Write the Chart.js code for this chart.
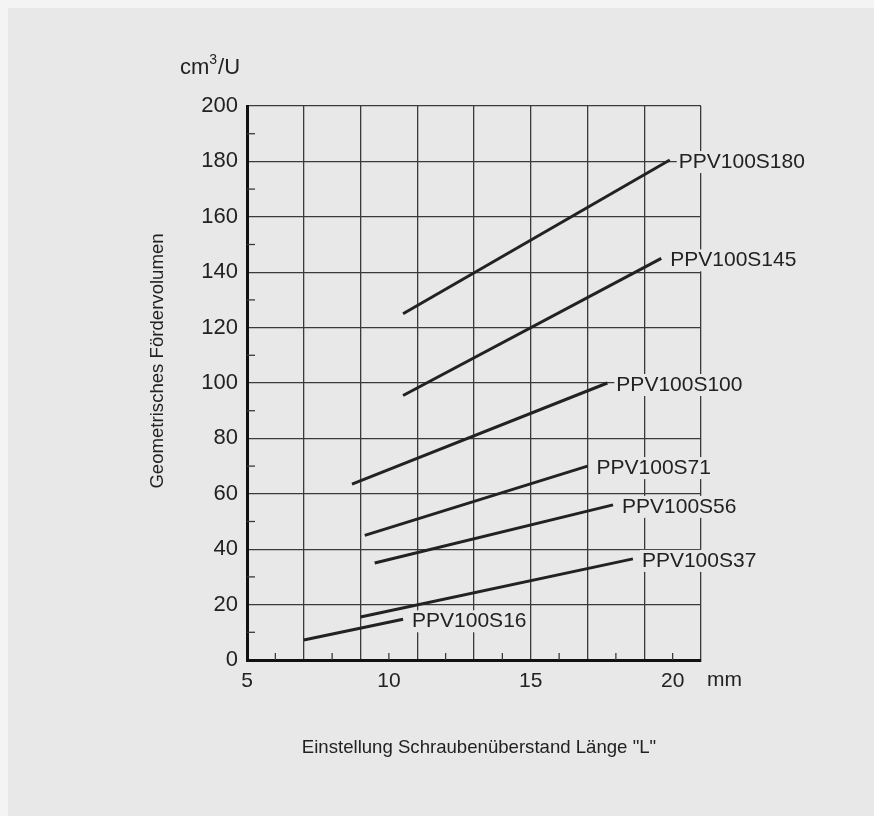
<!DOCTYPE html>
<html>
<head>
<meta charset="utf-8">
<script src="https://cdn.jsdelivr.net/npm/chart.js@4"></script>
<style>
  body { margin: 0; background: #f4f4f4; }
  canvas { display: block; }
</style>
</head>
<body>
<canvas id="pumpChart" width="874" height="816"></canvas>
<script>
// Series names and start/end points
const seriesNames = ['PPV100S180', 'PPV100S145', 'PPV100S100', 'PPV100S71', 'PPV100S56', 'PPV100S37', 'PPV100S16'];
const xStart = [10.5, 10.5, 8.7, 9.15, 9.5, 9.0, 7.0];
const xEnd   = [19.9, 19.6, 17.7, 17.0, 17.9, 18.6, 10.5];
const yStart = [125, 95.5, 63.5, 45, 35, 15.5, 7.2];
const yEnd   = [180.5, 145, 100, 70, 56, 36.5, 14.7];

// Axis labelling
const xLabelTicks = [5, 10, 15, 20];
const yMin = 0, yMax = 200;
const xMin = 5, xMax = 21;

const panelColor = '#e8e8e8';
const inkColor = '#222';
const gridColor = '#3a3a3a';
const fontFamily = '"Liberation Sans", Arial, Helvetica, sans-serif';

// Build datasets: each curve is a straight segment
const datasets = seriesNames.map((name, i) => ({
    label: name,
    data: [{ x: xStart[i], y: yStart[i] }, { x: xEnd[i], y: yEnd[i] }],
    borderColor: inkColor,
    borderWidth: 3,
    pointRadius: 0,
    fill: false,
    tension: 0
}));

// Panel background
const backgroundPlugin = {
    id: 'panelBackground',
    beforeDraw(chart) {
        const ctx = chart.ctx;
        ctx.save();
        ctx.fillStyle = panelColor;
        ctx.fillRect(8, 8, chart.width - 8, chart.height - 8);
        ctx.restore();
    }
};

// Minor ticks on the inside of the axes, titles and series labels
const decorPlugin = {
    id: 'decor',
    afterDatasetsDraw(chart) {
        const ctx = chart.ctx;
        const area = chart.chartArea;
        const xs = chart.scales.x;
        const ys = chart.scales.y;
        ctx.save();

        // minor ticks
        ctx.strokeStyle = gridColor;
        ctx.lineWidth = 1.3;
        for (let v = 10; v < yMax; v += 20) {
            const py = ys.getPixelForValue(v);
            ctx.beginPath();
            ctx.moveTo(area.left, py);
            ctx.lineTo(area.left + 8, py);
            ctx.stroke();
        }
        for (let v = 6; v < xMax; v += 2) {
            const px = xs.getPixelForValue(v);
            ctx.beginPath();
            ctx.moveTo(px, area.bottom);
            ctx.lineTo(px, area.bottom - 7);
            ctx.stroke();
        }

        // series labels with a background that breaks the grid
        ctx.font = '21px ' + fontFamily;
        ctx.textBaseline = 'middle';
        ctx.textAlign = 'left';
        seriesNames.forEach((name, i) => {
            const px = xs.getPixelForValue(xEnd[i]) + 9;
            const py = ys.getPixelForValue(yEnd[i]) + 2;
            const w = ctx.measureText(name).width;
            ctx.fillStyle = panelColor;
            ctx.fillRect(px - 2, py - 11, w + 4, 22);
            ctx.fillStyle = inkColor;
            ctx.fillText(name, px, py);
        });

        // unit labels
        ctx.fillStyle = inkColor;
        ctx.font = '22px ' + fontFamily;
        ctx.textAlign = 'left';
        ctx.fillText('cm', 180, 68);
        const cmW = ctx.measureText('cm').width;
        ctx.font = '14px ' + fontFamily;
        ctx.fillText('3', 180 + cmW, 60);
        const supW = ctx.measureText('3').width;
        ctx.font = '22px ' + fontFamily;
        ctx.fillText('/U', 180 + cmW + supW + 1, 68);

        ctx.font = '21px ' + fontFamily;
        ctx.fillText('mm', 707, 680);

        // axis titles
        ctx.font = '18.6px ' + fontFamily;
        ctx.textAlign = 'center';
        ctx.fillText('Einstellung Schraubenüberstand Länge "L"', 479, 748);

        ctx.translate(158, 361);
        ctx.rotate(-Math.PI / 2);
        ctx.fillText('Geometrisches Fördervolumen', 0, 0);

        ctx.restore();
    }
};

const ctx = document.getElementById('pumpChart').getContext('2d');
const pumpChart = new Chart(ctx, {
    type: 'line',
    data: { datasets: datasets },
    options: {
        responsive: false,
        animation: false,
        layout: { padding: { top: 106, right: 173, bottom: 0, left: 0 } },
        plugins: {
            legend: { display: false },
            tooltip: { enabled: false }
        },
        scales: {
            x: {
                type: 'linear',
                min: xMin,
                max: xMax,
                afterFit(scale) { scale.height = 156; },
                ticks: {
                    stepSize: 1,
                    autoSkip: false,
                    maxRotation: 0,
                    padding: 9,
                    color: inkColor,
                    font: { family: fontFamily, size: 21 },
                    callback: v => xLabelTicks.includes(v) ? String(v) : ''
                },
                grid: {
                    drawTicks: false,
                    lineWidth: 1.3,
                    color: c => (c.tick && c.tick.value % 2 === 1 && c.tick.value > xMin) ? gridColor : 'transparent'
                },
                border: { display: true, color: '#111', width: 3 }
            },
            y: {
                min: yMin,
                max: yMax,
                afterFit(scale) { scale.width = 247; },
                ticks: {
                    stepSize: 10,
                    autoSkip: false,
                    padding: 9,
                    color: inkColor,
                    font: { family: fontFamily, size: 22 },
                    callback: v => v % 20 === 0 ? String(v) : ''
                },
                grid: {
                    drawTicks: false,
                    lineWidth: 1.3,
                    color: c => (c.tick && c.tick.value % 20 === 0 && c.tick.value > yMin) ? gridColor : 'transparent'
                },
                border: { display: true, color: '#111', width: 3 }
            }
        }
    },
    plugins: [backgroundPlugin, decorPlugin]
});
</script>
</body>
</html>
